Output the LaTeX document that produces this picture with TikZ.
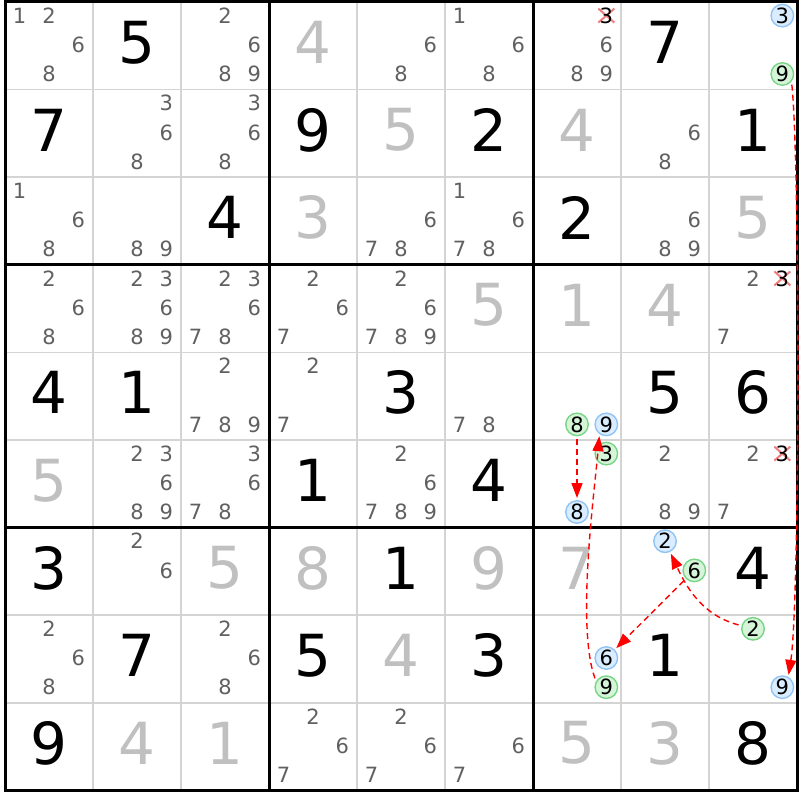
\documentclass[tikz,border=0pt]{standalone}
\usepackage{fontspec}
\setmainfont{DejaVu Sans}
\usetikzlibrary{calc,arrows.meta}
\definecolor{solvedgray}{RGB}{192,192,192}
\definecolor{candgray}{RGB}{96,96,96}
\definecolor{gridgray}{RGB}{212,212,212}
\definecolor{ringblue}{RGB}{145,196,245}
\definecolor{fillblue}{RGB}{218,236,255}
\definecolor{ringgreen}{RGB}{120,212,135}
\definecolor{fillgreen}{RGB}{214,245,216}
\definecolor{strikepink}{RGB}{240,125,125}
\newcommand\XO{5}
\newcommand\YO{2}
\newcommand\CW{88}
\newcommand\CH{87.6}

% Placed digits and pencil marks.
\newcommand\given[3]{\node[given] (r#1c#2) at ({\XO+(#2-0.5)*\CW}, {\YO+(#1-0.5)*\CH-3.5}) {#3};}
\newcommand\solved[3]{\node[solved] (r#1c#2) at ({\XO+(#2-0.5)*\CW}, {\YO+(#1-0.5)*\CH-3.5}) {#3};}
\newcommand\cand[3]{\node[cand] (r#1c#2d#3) at ({\XO+(#2-1)*\CW+(mod(#3-1,3)+0.5)*\CW/3}, {\YO+(#1-1)*\CH+(floor((#3-1)/3)+0.5)*\CH/3-1}) {#3};}
\newcommand\cands[3]{\foreach \d in {#3} {\cand{#1}{#2}{\d}}}
\newcommand\candon[4]{\node[cand, #4] (r#1c#2d#3) at ({\XO+(#2-1)*\CW+(mod(#3-1,3)+0.5)*\CW/3}, {\YO+(#1-1)*\CH+(floor((#3-1)/3)+0.5)*\CH/3-1}) {#3};}
\newcommand\candx[3]{%
  \coordinate (r#1c#2x#3) at ({\XO+(#2-1)*\CW+(mod(#3-1,3)+0.5)*\CW/3}, {\YO+(#1-1)*\CH+(floor((#3-1)/3)+0.5)*\CH/3-1});
  \draw[strike] ($(r#1c#2x#3)+(-8,-7)$) -- ($(r#1c#2x#3)+(8,7)$) ($(r#1c#2x#3)+(8,-7)$) -- ($(r#1c#2x#3)+(-8,7)$);
  \node[cand, text=black] (r#1c#2d#3) at (r#1c#2x#3) {#3};}

\begin{document}
\begin{tikzpicture}
  [x=1pt, y=-1pt,
   given/.style = {
     font=\fontsize{58}{60}\selectfont, inner sep=0pt
   },
   solved/.style = {
     given, text=solvedgray
   },
   cand/.style = {
     font=\fontsize{21}{22}\selectfont, text=candgray, inner sep=0pt
   },
   bluecand/.style = {
     circle, draw=ringblue, fill=fillblue, line width=1.4pt,
     minimum size=22.5pt, text=black
   },
   greencand/.style = {
     circle, draw=ringgreen, fill=fillgreen, line width=1.4pt,
     minimum size=22.5pt, text=black
   },
   strike/.style = {
     draw=strikepink, line width=2pt
   },
   thinline/.style = {
     draw=gridgray, line width=1.5pt
   },
   boxline/.style = {
     draw=black, line width=3pt
   },
   link/.style = {
     draw=red, dash pattern=on 6pt off 4pt, line width=1.4pt,
     -{Triangle[length=15pt,width=11pt]}, shorten <=3pt, shorten >=2pt
   }]

  \useasboundingbox (0,0) rectangle (800,800);

	% Thin cell lines.
	\draw[thinline] (\XO+1*\CW, \YO) -- (\XO+1*\CW, \YO+9*\CH);
	\draw[thinline] (\XO+2*\CW, \YO) -- (\XO+2*\CW, \YO+9*\CH);
	\draw[thinline] (\XO+4*\CW, \YO) -- (\XO+4*\CW, \YO+9*\CH);
	\draw[thinline] (\XO+5*\CW, \YO) -- (\XO+5*\CW, \YO+9*\CH);
	\draw[thinline] (\XO+7*\CW, \YO) -- (\XO+7*\CW, \YO+9*\CH);
	\draw[thinline] (\XO+8*\CW, \YO) -- (\XO+8*\CW, \YO+9*\CH);
	\draw[thinline] (\XO, \YO+1*\CH) -- (\XO+9*\CW, \YO+1*\CH);
	\draw[thinline] (\XO, \YO+2*\CH) -- (\XO+9*\CW, \YO+2*\CH);
	\draw[thinline] (\XO, \YO+4*\CH) -- (\XO+9*\CW, \YO+4*\CH);
	\draw[thinline] (\XO, \YO+5*\CH) -- (\XO+9*\CW, \YO+5*\CH);
	\draw[thinline] (\XO, \YO+7*\CH) -- (\XO+9*\CW, \YO+7*\CH);
	\draw[thinline] (\XO, \YO+8*\CH) -- (\XO+9*\CW, \YO+8*\CH);

	% Box lines and border.
	\draw[boxline] (\XO+3*\CW, \YO) -- (\XO+3*\CW, \YO+9*\CH);
	\draw[boxline] (\XO+6*\CW, \YO) -- (\XO+6*\CW, \YO+9*\CH);
	\draw[boxline] (\XO, \YO+3*\CH) -- (\XO+9*\CW, \YO+3*\CH);
	\draw[boxline] (\XO, \YO+6*\CH) -- (\XO+9*\CW, \YO+6*\CH);
	\draw[boxline] (\XO, \YO) rectangle (\XO+9*\CW, \YO+9*\CH);

	% Row 1
	\cands{1}{1}{1,2,6,8}
	\given{1}{2}{5}
	\cands{1}{3}{2,6,8,9}
	\solved{1}{4}{4}
	\cands{1}{5}{6,8}
	\cands{1}{6}{1,6,8}
	\candx{1}{7}{3}
	\cands{1}{7}{6,8,9}
	\given{1}{8}{7}
	\candon{1}{9}{3}{bluecand}
	\candon{1}{9}{9}{greencand}

	% Row 2
	\given{2}{1}{7}
	\cands{2}{2}{3,6,8}
	\cands{2}{3}{3,6,8}
	\given{2}{4}{9}
	\solved{2}{5}{5}
	\given{2}{6}{2}
	\solved{2}{7}{4}
	\cands{2}{8}{6,8}
	\given{2}{9}{1}

	% Row 3
	\cands{3}{1}{1,6,8}
	\cands{3}{2}{8,9}
	\given{3}{3}{4}
	\solved{3}{4}{3}
	\cands{3}{5}{6,7,8}
	\cands{3}{6}{1,6,7,8}
	\given{3}{7}{2}
	\cands{3}{8}{6,8,9}
	\solved{3}{9}{5}

	% Row 4
	\cands{4}{1}{2,6,8}
	\cands{4}{2}{2,3,6,8,9}
	\cands{4}{3}{2,3,6,7,8}
	\cands{4}{4}{2,6,7}
	\cands{4}{5}{2,6,7,8,9}
	\solved{4}{6}{5}
	\solved{4}{7}{1}
	\solved{4}{8}{4}
	\cands{4}{9}{2,7}
	\candx{4}{9}{3}

	% Row 5
	\given{5}{1}{4}
	\given{5}{2}{1}
	\cands{5}{3}{2,7,8,9}
	\cands{5}{4}{2,7}
	\given{5}{5}{3}
	\cands{5}{6}{7,8}
	\candon{5}{7}{8}{greencand}
	\candon{5}{7}{9}{bluecand}
	\given{5}{8}{5}
	\given{5}{9}{6}

	% Row 6
	\solved{6}{1}{5}
	\cands{6}{2}{2,3,6,8,9}
	\cands{6}{3}{3,6,7,8}
	\given{6}{4}{1}
	\cands{6}{5}{2,6,7,8,9}
	\given{6}{6}{4}
	\candon{6}{7}{3}{greencand}
	\candon{6}{7}{8}{bluecand}
	\cands{6}{8}{2,8,9}
	\cands{6}{9}{2,7}
	\candx{6}{9}{3}

	% Row 7
	\given{7}{1}{3}
	\cands{7}{2}{2,6}
	\solved{7}{3}{5}
	\solved{7}{4}{8}
	\given{7}{5}{1}
	\solved{7}{6}{9}
	\solved{7}{7}{7}
	\candon{7}{8}{2}{bluecand}
	\candon{7}{8}{6}{greencand}
	\given{7}{9}{4}

	% Row 8
	\cands{8}{1}{2,6,8}
	\given{8}{2}{7}
	\cands{8}{3}{2,6,8}
	\given{8}{4}{5}
	\solved{8}{5}{4}
	\given{8}{6}{3}
	\candon{8}{7}{6}{bluecand}
	\candon{8}{7}{9}{greencand}
	\given{8}{8}{1}
	\candon{8}{9}{2}{greencand}
	\candon{8}{9}{9}{bluecand}

	% Row 9
	\given{9}{1}{9}
	\solved{9}{2}{4}
	\solved{9}{3}{1}
	\cands{9}{4}{2,6,7}
	\cands{9}{5}{2,6,7}
	\cands{9}{6}{6,7}
	\solved{9}{7}{5}
	\solved{9}{8}{3}
	\given{9}{9}{8}

	% Chain links.
	\draw[link] (r1c9d9.-40) .. controls (800,160) and (800,600) .. (r8c9d9.60);
	\draw[link] (r8c9d2) to[out=165,in=-65] (r7c8d2);
	\draw[link] (r7c8d6) -- (r8c7d6);
	\draw[link] (r8c7d9.150) to[out=110,in=-95,looseness=0.6] (r5c7d9.235);
	\draw[link] (r5c7d8) -- (r6c7d8);

\end{tikzpicture}
\end{document}
